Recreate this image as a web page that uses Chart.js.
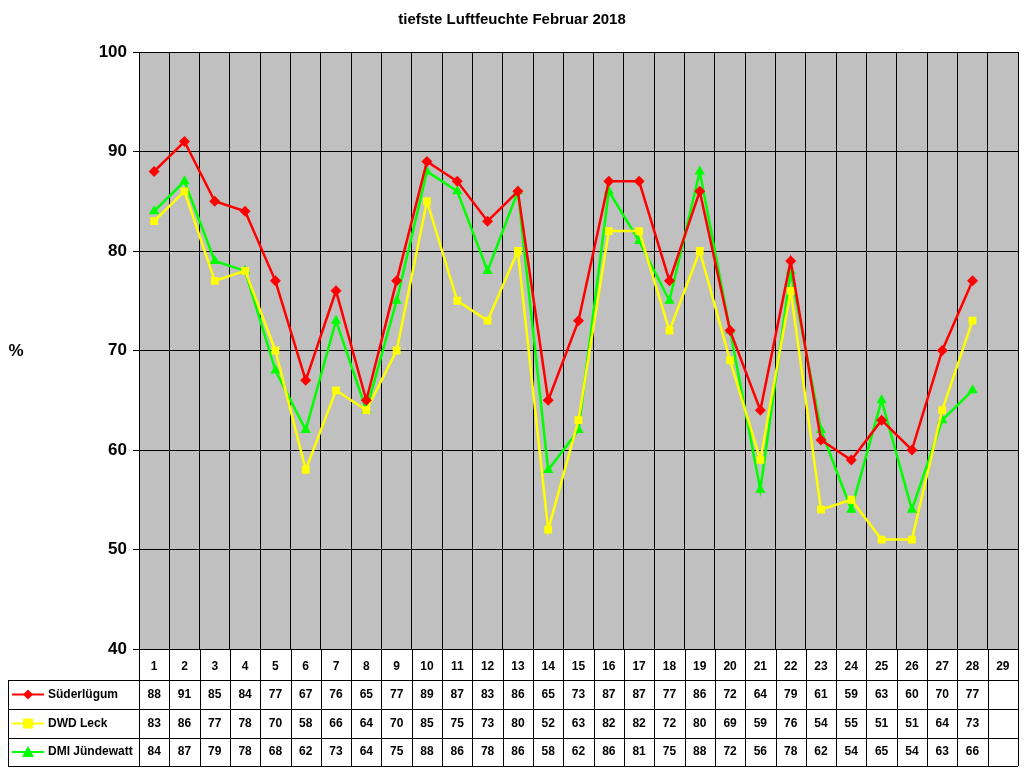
<!DOCTYPE html>
<html><head><meta charset="utf-8">
<script src="https://cdn.jsdelivr.net/npm/chart.js@4"></script>
<style>html,body{margin:0;background:#fff}#w{width:1024px;height:768px}</style>
</head><body><div id="w"><canvas id="c" width="1024" height="768"></canvas></div>
<script>
const days = ["1","2","3","4","5","6","7","8","9","10","11","12","13","14","15","16","17","18","19","20","21","22","23","24","25","26","27","28","29"];
const suederluegum = [88,91,85,84,77,67,76,65,77,89,87,83,86,65,73,87,87,77,86,72,64,79,61,59,63,60,70,77,null];
const dwdLeck = [83,86,77,78,70,58,66,64,70,85,75,73,80,52,63,82,82,72,80,69,59,76,54,55,51,51,64,73,null];
const dmiJuendewatt = [84,87,79,78,68,62,73,64,75,88,86,78,86,58,62,86,81,75,88,72,56,78,62,54,65,54,63,66,null];
const yTicks = [40,50,60,70,80,90,100];
const series = [
 {label:"Süderlügum",data:suederluegum,color:"#ff0000",style:"rectRot"},
 {label:"DWD Leck",data:dwdLeck,color:"#ffff00",style:"rect"},
 {label:"DMI Jündewatt",data:dmiJuendewatt,color:"#00ff00",style:"triangle"}
];
function marker(ctx,style,x,y,c){
  ctx.fillStyle=c;ctx.beginPath();
  if(style==="rectRot"){ctx.moveTo(x,y-5);ctx.lineTo(x+5,y);ctx.lineTo(x,y+5);ctx.lineTo(x-5,y);}
  else if(style==="rect"){ctx.rect(x-5,y-5,10,10);}
  else {ctx.moveTo(x,y-6);ctx.lineTo(x+6,y+5);ctx.lineTo(x-6,y+5);}
  ctx.closePath();ctx.fill();
}
const extra={id:'extra',
 beforeDraw(ch){const a=ch.chartArea,ctx=ch.ctx;ctx.save();ctx.fillStyle='#c0c0c0';ctx.fillRect(a.left,a.top,a.right-a.left,a.bottom-a.top);ctx.restore();},
 afterDraw(ch){
  const ctx=ch.ctx,a=ch.chartArea,xs=ch.scales.x;
  ctx.save();
  ctx.fillStyle='#000';ctx.font='bold 15px Arial, "Liberation Sans"';ctx.textAlign='center';ctx.textBaseline='middle';
  ctx.fillText('tiefste Luftfeuchte Februar 2018',512,20);
  ctx.font='bold 17px Arial, "Liberation Sans"';ctx.fillText('%',16,351);
  ctx.strokeRect(a.left+0.5,a.top+0.5,a.right-a.left,a.bottom-a.top);
  const w=(a.right-a.left)/days.length;
  const rows=[651,680,709,738,766];
  ctx.strokeStyle='#000';ctx.lineWidth=1;
  ctx.beginPath();
  // header row verticals
  for(let i=0;i<=days.length;i++){const x=Math.round(a.left+i*w)+0.5;ctx.moveTo(x,a.bottom);ctx.lineTo(x,rows[4]);}
  ctx.moveTo(8.5,rows[1]);ctx.lineTo(8.5,rows[4]);
  for(let r=1;r<5;r++){ctx.moveTo(8,rows[r]+0.5);ctx.lineTo(a.right,rows[r]+0.5);}
  ctx.stroke();
  ctx.font='bold 12px Arial, "Liberation Sans"';
  days.forEach((d,i)=>ctx.fillText(d,xs.getPixelForValue(i),(rows[0]+rows[1])/2+1));
  series.forEach((s,r)=>{
   const yc=(rows[r+1]+rows[r+2])/2;
   s.data.forEach((v,i)=>{if(v!=null)ctx.fillText(String(v),xs.getPixelForValue(i),yc);});
   ctx.strokeStyle=s.color;ctx.lineWidth=2;ctx.beginPath();ctx.moveTo(12,yc);ctx.lineTo(44,yc);ctx.stroke();
   marker(ctx,s.style,28,yc,s.color);
   ctx.textAlign='left';ctx.fillStyle='#000';ctx.fillText(s.label,48,yc);ctx.textAlign='center';
  });
  ctx.restore();
 }};
new Chart(document.getElementById('c'),{
 type:'line',
 data:{labels:days,datasets:series.map(s=>({label:s.label,data:s.data,borderColor:s.color,backgroundColor:s.color,borderWidth:2.5,pointStyle:s.style,pointRadius:s.style==='triangle'?6:5.5,pointBorderWidth:0,tension:0}))},
 options:{responsive:false,animation:false,
  layout:{padding:{top:52,bottom:119,right:6,left:0}},
  plugins:{legend:{display:false},title:{display:false},tooltip:{enabled:false}},
  scales:{
   x:{offset:true,grid:{offset:true,color:'#000',drawTicks:false},border:{color:'#000'},ticks:{display:false},afterFit:s=>{s.height=0;}},
   y:{min:40,max:100,afterBuildTicks:s=>{s.ticks=yTicks.map(v=>({value:v}));},grid:{color:'#000',drawTicks:true,tickLength:6},border:{color:'#000'},
      ticks:{color:'#000',font:{family:'Arial, "Liberation Sans"',size:17,weight:'bold'},padding:6},afterFit:s=>{s.width=139;}}
  }}
 ,plugins:[extra]});
</script></body></html>
